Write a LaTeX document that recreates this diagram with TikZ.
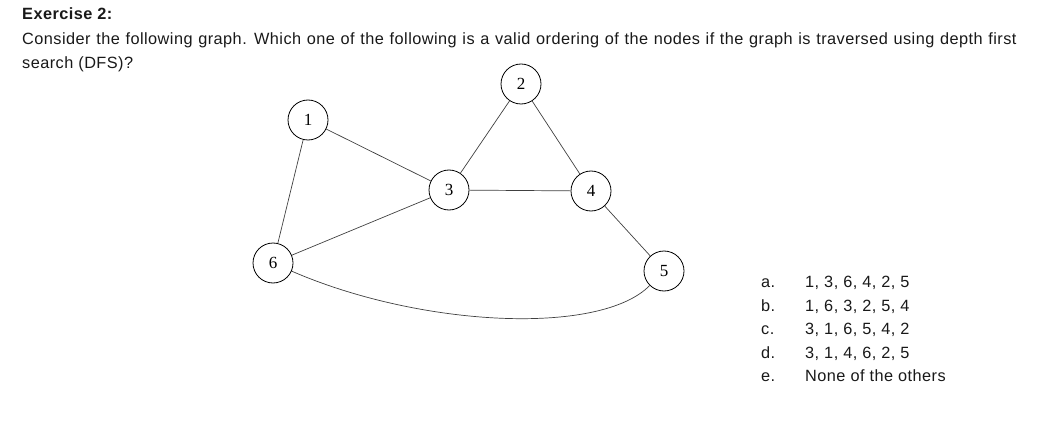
\documentclass[tikz,border=0pt]{standalone}
\usepackage{fontspec}
\setmainfont{Liberation Sans}[LetterSpace=2.8]
\newfontfamily\numfont{Liberation Serif}
\begin{document}
\begin{tikzpicture}[x=1pt,y=-1pt,
  vertex/.style={circle,draw=black,line width=0.8pt,minimum size=40pt,inner sep=0pt,font=\numfont\fontsize{17}{17}\selectfont},
  edge/.style={draw=black!75,line width=0.7pt},
  txt/.style={anchor=base west,inner sep=0pt,font=\fontsize{16.3}{19}\selectfont,text=black!90}]
\useasboundingbox (0,0) rectangle (1054,422);
\node[txt,font=\bfseries\fontsize{16.3}{19}\selectfont] (title) at (22,20) {Exercise 2:};
\node[txt] (l1) at (22,45) {\spaceskip=\dimexpr\fontdimen2\font+0.7pt\relax Consider the following graph. Which one of the following is a valid ordering of the nodes if the graph is traversed using depth first};
\node[txt] (l2) at (22,69) {search (DFS)?};
\node[vertex] (n1) at (308,120) {1};
\node[vertex] (n2) at (521,84) {2};
\node[vertex] (n3) at (449,190) {3};
\node[vertex] (n4) at (591,191) {4};
\node[vertex] (n5) at (664,271) {5};
\node[vertex] (n6) at (273,263) {6};
\draw[edge] (n1) -- (n3);
\draw[edge] (n1) -- (n6);
\draw[edge] (n2) -- (n3);
\draw[edge] (n2) -- (n4);
\draw[edge] (n3) -- (n4);
\draw[edge] (n3) -- (n6);
\draw[edge] (n4) -- (n5);
\draw[edge] (n6) .. controls (420,327) and (600,336) .. (n5);
\foreach \l/\t/\y [count=\i] in {a./{1, 3, 6, 4, 2, 5}/287, b./{1, 6, 3, 2, 5, 4}/311, c./{3, 1, 6, 5, 4, 2}/334, d./{3, 1, 4, 6, 2, 5}/358, e./{None of the others}/381}{
  \node[txt] (opt\i) at (761,\y) {\l};
  \node[txt] (ans\i) at (805,\y) {\t};
}
\end{tikzpicture}
\end{document}
